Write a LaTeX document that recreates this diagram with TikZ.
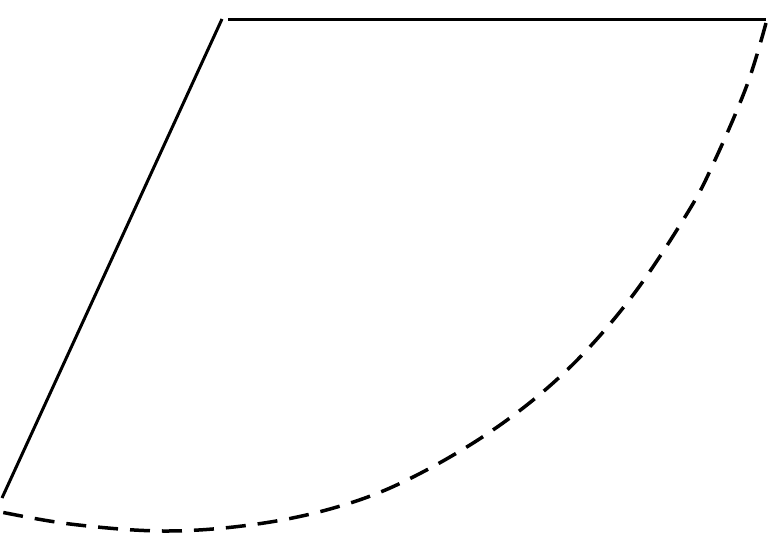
\documentclass[tikz,border=0pt]{standalone}
\usepackage{tikz}

\begin{document}
\begin{tikzpicture}[x=1pt, y=-1pt]
        \useasboundingbox (0, 0) rectangle (768, 556);
        \coordinate (apexL) at (222, 19);
        \coordinate (apexT) at (228, 20);
        \coordinate (topR) at (766, 20);
        \coordinate (botL) at (2, 498);
        \draw[line width=3pt] (apexL) -- (botL);
        \draw[line width=3pt] (apexT) -- (topR);
        \draw[line width=3.5pt, dash pattern=on 20pt off 12pt, smooth, tension=0.6] plot coordinates {(766, 23) (747, 85) (715, 160) (688, 212) (630, 299) (565, 372) (490, 432) (403, 482) (330, 509) (250, 525) (163, 531) (70, 524) (-4, 511)};
      \end{tikzpicture}
\end{document}
